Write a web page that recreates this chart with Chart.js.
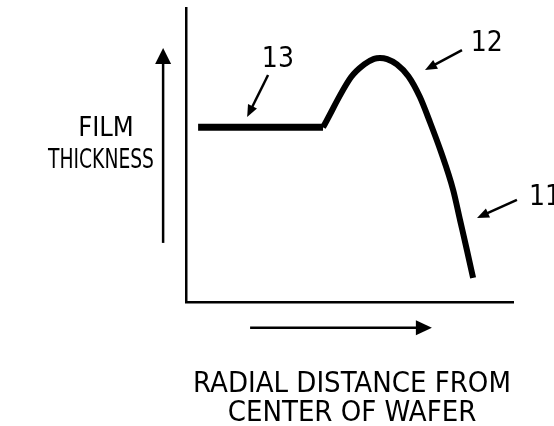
<!DOCTYPE html>
<html>
<head>
<meta charset="utf-8">
<style>
  html, body { margin: 0; padding: 0; background: #fff; }
  #wrap { width: 554px; height: 426px; }
</style>
<script src="https://cdn.jsdelivr.net/npm/chart.js@4/dist/chart.umd.min.js"></script>
</head>
<body>
<div id="wrap"><canvas id="c" width="554" height="426"></canvas></div>
<script>
// film profile (x: radial position, y: thickness, both 0..100)
const flatX = [3.7, 41.9];
const flatY = [59.4, 59.4];
const curveX = [41.9, 50.5, 54.5, 57.5, 59.3, 61.5, 64.5, 68.0, 71.5, 74.5, 78.0, 81.7, 83.8, 85.9, 87.8];
const curveY = [59.4, 76.5, 80.8, 82.7, 83.0, 82.6, 80.8, 76.8, 69.8, 61.5, 51.0, 38.1, 27.9, 17.7, 8.2];

// reference numerals and their leader arrows [fromX, fromY, toX, toY]
const refLabels = ['13', '12', '11'];
const refPos = [[28.1, 82.3], [92.0, 87.8], [109.8, 35.4]];
const leaders = [[25.1, 77.2, 18.7, 62.9], [84.4, 85.7, 73.1, 78.9], [101.2, 34.7, 89.0, 28.6]];

// direction arrows beside the axes
const upArrow = [-7.0, 20.1, -7.0, 86.4];
const rightArrow = [19.6, -8.8, 75.2, -8.8];

const yTitle = ['FILM', 'THICKNESS'];
const xTitle = ['RADIAL DISTANCE FROM', 'CENTER OF WAFER'];

const FONT = "'Liberation Sans Narrow', 'Arial Narrow', 'DejaVu Sans Condensed', sans-serif";

function pts(xs, ys) { return xs.map((x, i) => ({ x: x, y: ys[i] })); }

function arrow(ctx, x1, y1, x2, y2, width, headLen, headW) {
    const a = Math.atan2(y2 - y1, x2 - x1);
    ctx.lineWidth = width;
    ctx.beginPath();
    ctx.moveTo(x1, y1);
    ctx.lineTo(x2 - Math.cos(a) * headLen * 0.8, y2 - Math.sin(a) * headLen * 0.8);
    ctx.stroke();
    ctx.beginPath();
    ctx.moveTo(x2, y2);
    ctx.lineTo(x2 - Math.cos(a) * headLen + Math.sin(a) * headW / 2, y2 - Math.sin(a) * headLen - Math.cos(a) * headW / 2);
    ctx.lineTo(x2 - Math.cos(a) * headLen - Math.sin(a) * headW / 2, y2 - Math.sin(a) * headLen + Math.cos(a) * headW / 2);
    ctx.closePath();
    ctx.fill();
}

const decorations = {
    id: 'decorations',
    afterDraw(chart) {
        const ctx = chart.ctx;
        const sx = chart.scales.x, sy = chart.scales.y;
        const px = v => sx.getPixelForValue(v), py = v => sy.getPixelForValue(v);
        ctx.save();
        ctx.strokeStyle = '#000';
        ctx.fillStyle = '#000';

        arrow(ctx, px(upArrow[0]), py(upArrow[1]), px(upArrow[2]), py(upArrow[3]), 2.5, 16, 16);
        arrow(ctx, px(rightArrow[0]), py(rightArrow[1]), px(rightArrow[2]), py(rightArrow[3]), 2.5, 16, 15);
        leaders.forEach(l => arrow(ctx, px(l[0]), py(l[1]), px(l[2]), py(l[3]), 2.5, 12, 10));

        ctx.textAlign = 'center';
        ctx.textBaseline = 'middle';
        ctx.font = '28px ' + FONT;
        refLabels.forEach((t, i) => ctx.fillText(t, px(refPos[i][0]), py(refPos[i][1])));

        ctx.font = '27px ' + FONT;
        ctx.fillText(yTitle[0], 106, 129);
        ctx.fillText(yTitle[1], 101, 161, 106);
        ctx.font = '29px ' + FONT;
        ctx.fillText(xTitle[0], 352, 384);
        ctx.fillText(xTitle[1], 352, 413);
        ctx.restore();
    }
};

new Chart(document.getElementById('c'), {
    type: 'line',
    data: {
        datasets: [
            { data: pts(flatX, flatY), borderColor: '#000', borderWidth: 7, pointRadius: 0, tension: 0, borderCapStyle: 'butt' },
            { data: pts(curveX, curveY), borderColor: '#000', borderWidth: 6, pointRadius: 0, cubicInterpolationMode: 'monotone', borderJoinStyle: 'round' }
        ]
    },
    options: {
        responsive: false,
        animation: false,
        layout: { padding: { left: 186, right: 41, top: 8, bottom: 124 } },
        plugins: { legend: { display: false }, tooltip: { enabled: false } },
        scales: {
            x: {
                type: 'linear', min: 0, max: 100,
                grid: { display: false, drawTicks: false },
                ticks: { display: false },
                border: { display: true, color: '#000', width: 2.5 }
            },
            y: {
                type: 'linear', min: 0, max: 100,
                grid: { display: false, drawTicks: false },
                ticks: { display: false },
                border: { display: true, color: '#000', width: 2.5 }
            }
        }
    },
    plugins: [decorations]
});
</script>
</body>
</html>
